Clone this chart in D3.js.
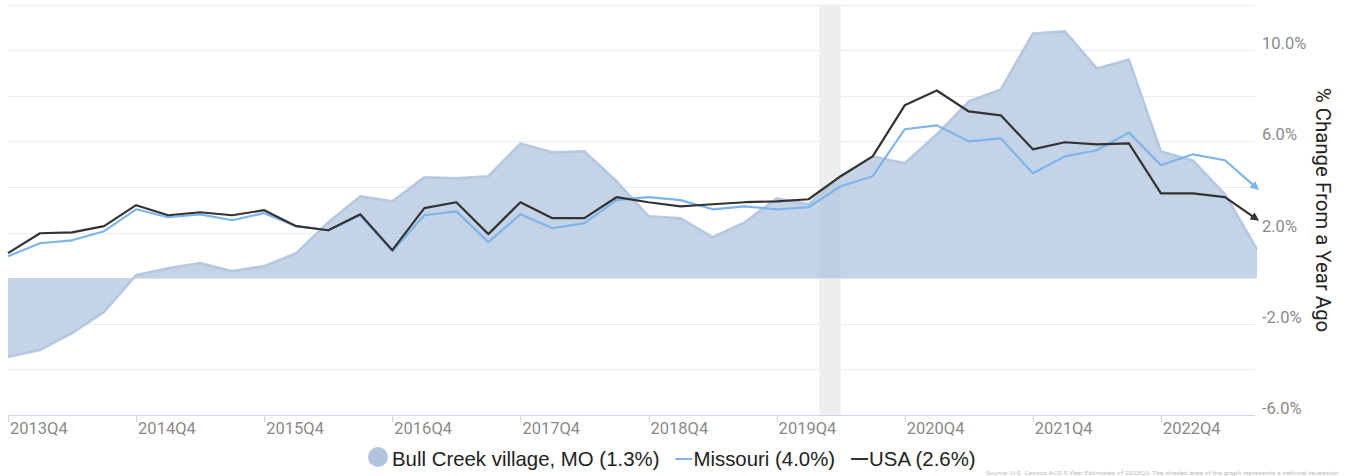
<!DOCTYPE html>
<html>
<head>
<meta charset="utf-8">
<script src="https://cdnjs.cloudflare.com/ajax/libs/d3/7.8.5/d3.min.js"></script>
<style>
body { margin: 0; background: #fff; }
#chart { width: 1346px; height: 476px; overflow: hidden; }
</style>
</head>
<body>
<div id="chart"></div>
<script>
// quarters from 2013Q4 to 2023Q3
var quarters = ["2013Q4","2014Q1","2014Q2","2014Q3","2014Q4","2015Q1","2015Q2","2015Q3",
  "2015Q4","2016Q1","2016Q2","2016Q3","2016Q4","2017Q1","2017Q2","2017Q3",
  "2017Q4","2018Q1","2018Q2","2018Q3","2018Q4","2019Q1","2019Q2","2019Q3",
  "2019Q4","2020Q1","2020Q2","2020Q3","2020Q4","2021Q1","2021Q2","2021Q3",
  "2021Q4","2022Q1","2022Q2","2022Q3","2022Q4","2023Q1","2023Q2","2023Q3"];

var bullCreek = [-3.46,-3.15,-2.41,-1.49,0.13,0.44,0.66,0.31,0.53,1.10,
  2.45,3.59,3.37,4.42,4.38,4.47,5.91,5.52,5.56,4.25,
  2.72,2.63,1.80,2.45,3.50,3.24,4.47,5.34,5.04,6.31,
  7.75,8.28,10.73,10.82,9.20,9.59,5.56,5.17,3.68,1.27];

var missouri = [0.96,1.53,1.66,2.06,3.02,2.67,2.80,2.54,2.85,2.28,
  2.10,2.75,1.18,2.76,2.93,1.58,2.80,2.19,2.41,3.42,
  3.55,3.42,3.02,3.15,3.02,3.11,4.03,4.47,6.53,6.70,
  6.00,6.13,4.60,5.34,5.61,6.39,4.95,5.43,5.17,3.94];

var usa = [1.10,1.97,2.01,2.28,3.20,2.76,2.89,2.76,2.98,2.28,
  2.10,2.80,1.23,3.07,3.33,1.93,3.33,2.63,2.63,3.55,
  3.33,3.15,3.24,3.33,3.37,3.46,4.47,5.34,7.58,8.23,
  7.31,7.14,5.65,5.96,5.87,5.91,3.72,3.72,3.55,2.58];

var yTicks = [-6,-4,-2,0,2,4,6,8,10,12];
var yLabelled = [-6,-2,2,6,10];
var xTickLabels = ["2013Q4","2014Q4","2015Q4","2016Q4","2017Q4","2018Q4","2019Q4","2020Q4","2021Q4","2022Q4"];
// recession shading, in quarter index units (Feb 2020 - Apr 2020)
var recession = [25.33, 26];

var legendNames = ["Bull Creek village, MO (1.3%)", "Missouri (4.0%)", "USA (2.6%)"];

var width = 1346, height = 476;

var svg = d3.select("#chart").append("svg")
    .attr("width", width)
    .attr("height", height)
    .style("font-family", "Roboto, sans-serif");

var defs = svg.append("defs");
function arrow(id, color) {
  defs.append("marker")
    .attr("id", id)
    .attr("viewBox", "0 0 10 10")
    .attr("refX", 7)
    .attr("refY", 5)
    .attr("markerWidth", 4)
    .attr("markerHeight", 4)
    .attr("orient", "auto")
    .append("path")
    .attr("d", "M0,0 L10,5 L0,10 Z")
    .attr("fill", color);
}
arrow("arrBlue", "#7cb5ec");
arrow("arrDark", "#333333");

var x = d3.scaleLinear()
    .domain([0, quarters.length - 1])
    .range([8, 1257]);

var y = d3.scaleLinear()
    .domain([-6, 12])
    .range([415, 4.5]);

// grid
svg.append("g")
  .selectAll("line")
  .data(yTicks)
  .enter()
  .append("line")
  .attr("x1", 8)
  .attr("x2", 1255)
  .attr("y1", function(d) { return Math.round(y(d)) + 0.5; })
  .attr("y2", function(d) { return Math.round(y(d)) + 0.5; })
  .attr("stroke", function(d) { return d == -6 ? "#ccd6eb" : "#ececec"; })
  .attr("stroke-width", 1);

// recession band
svg.append("rect")
  .attr("x", x(recession[0]))
  .attr("y", y(12))
  .attr("width", x(recession[1]) - x(recession[0]))
  .attr("height", y(-6) - y(12))
  .attr("fill", "#eeeeee");

var area = d3.area()
    .x(function(d, i) { return x(i); })
    .y0(y(0))
    .y1(function(d) { return y(d); });

svg.append("path")
  .datum(bullCreek)
  .attr("d", area)
  .attr("fill", "#b0c4de")
  .attr("fill-opacity", 0.75);

svg.append("path")
  .datum(bullCreek)
  .attr("d", d3.line().x(function(d, i) { return x(i); }).y(function(d) { return y(d); }))
  .attr("fill", "none")
  .attr("stroke", "#b0c4de")
  .attr("stroke-opacity", 0.9)
  .attr("stroke-width", 2.5);

var line = d3.line()
    .x(function(d, i) { return x(i); })
    .y(function(d) { return y(d); });

svg.append("path")
  .datum(missouri)
  .attr("d", line)
  .attr("fill", "none")
  .attr("stroke", "#7cb5ec")
  .attr("stroke-width", 2.2)
  .attr("stroke-linejoin", "round")
  .attr("marker-end", "url(#arrBlue)");

svg.append("path")
  .datum(usa)
  .attr("d", line)
  .attr("fill", "none")
  .attr("stroke", "#333333")
  .attr("stroke-width", 2.2)
  .attr("stroke-linejoin", "round")
  .attr("marker-end", "url(#arrDark)");

// x axis ticks + labels
var xt = svg.append("g");
xt.selectAll("line")
  .data(xTickLabels)
  .enter()
  .append("line")
  .attr("x1", function(d) { return Math.round(x(quarters.indexOf(d))) + 0.5; })
  .attr("x2", function(d) { return Math.round(x(quarters.indexOf(d))) + 0.5; })
  .attr("y1", 415)
  .attr("y2", 422)
  .attr("stroke", "#ccd6eb");
xt.selectAll("text")
  .data(xTickLabels)
  .enter()
  .append("text")
  .attr("x", function(d) { return x(quarters.indexOf(d)) + 2; })
  .attr("y", 434)
  .attr("fill", "#8a8a8a")
  .style("font-size", "16.5px")
  .text(function(d) { return d; });

// y labels on the right
svg.append("g")
  .selectAll("text")
  .data(yLabelled)
  .enter()
  .append("text")
  .attr("x", 1262)
  .attr("y", function(d) { return y(d) - 1; })
  .attr("fill", "#8a8a8a")
  .style("font-size", "16.5px")
  .text(function(d) { return d.toFixed(1) + "%"; });

svg.append("text")
  .attr("transform", "translate(1316,210) rotate(90)")
  .attr("text-anchor", "middle")
  .attr("fill", "#222")
  .style("font-size", "20.4px")
  .text("% Change From a Year Ago");

// legend
var legend = svg.append("g")
    .style("font-family", "'Liberation Sans', Arial, sans-serif")
    .style("font-size", "20.4px");
var lx = 368;
legendNames.forEach(function(name, i) {
  var g = legend.append("g");
  if (i == 0) {
    g.append("circle")
      .attr("cx", lx + 10).attr("cy", 457).attr("r", 10)
      .attr("fill", "#b0c4de");
    lx += 24;
  } else {
    g.append("line")
      .attr("x1", lx).attr("x2", lx + 17)
      .attr("y1", 459).attr("y2", 459)
      .attr("stroke", i == 1 ? "#7cb5ec" : "#333333")
      .attr("stroke-width", 2);
    lx += 18;
  }
  var t = g.append("text")
    .attr("x", lx)
    .attr("y", 466)
    .attr("fill", "#222")
    .text(name);
  lx += t.node().getComputedTextLength() + 16;
});

// footer
svg.append("text")
  .attr("x", 986)
  .attr("y", 475)
  .attr("fill", "#bbbbbb")
  .attr("textLength", 354)
  .attr("lengthAdjust", "spacingAndGlyphs")
  .style("font-size", "6px")
  .text("Source: U.S. Census ACS 5-Year Estimates of 2023Q3. The shaded area of the graph represents a national recession.");
</script>
</body>
</html>
